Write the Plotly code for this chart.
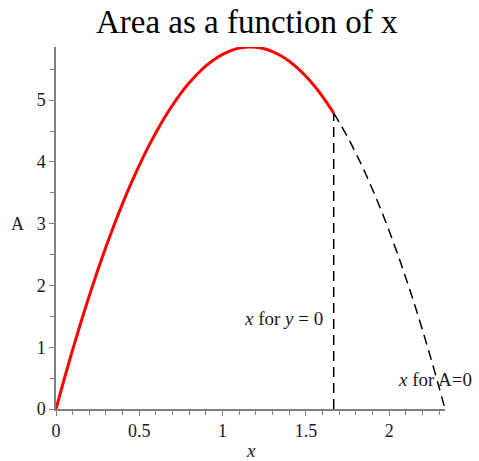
import plotly.graph_objects as go

# Area A against x, sampled along the curve
x_valid = [0.0, 0.05, 0.1, 0.15, 0.2, 0.25, 0.3, 0.35, 0.4, 0.45, 0.5, 0.55, 0.6,
           0.65, 0.7, 0.75, 0.8, 0.85, 0.9, 0.95, 1.0, 1.05, 1.1, 1.15, 1.2, 1.25,
           1.3, 1.35, 1.4, 1.45, 1.5, 1.55, 1.6, 1.65, 1.667]
a_valid = [0.0, 0.491, 0.961, 1.409, 1.836, 2.241, 2.625, 2.987, 3.328, 3.648,
           3.945, 4.222, 4.476, 4.710, 4.921, 5.112, 5.280, 5.428, 5.554, 5.658,
           5.741, 5.802, 5.842, 5.860, 5.857, 5.832, 5.786, 5.718, 5.629, 5.518,
           5.386, 5.232, 5.057, 4.860, 4.788]

# Continuation past y = 0, down to A = 0
x_beyond = [1.667, 1.7, 1.75, 1.8, 1.85, 1.9, 1.95, 2.0, 2.05, 2.1, 2.15, 2.2,
            2.25, 2.3, 2.335]
a_beyond = [4.788, 4.642, 4.402, 4.141, 3.858, 3.554, 3.228, 2.881, 2.512,
            2.122, 1.710, 1.277, 0.822, 0.346, 0.0]

x_y_zero = 1.667
x_a_zero = 2.335
a_max = 5.86

serif = "Liberation Serif, Times New Roman, serif"
dash = "10px,6px"

fig = go.Figure()
fig.add_trace(go.Scatter(x=x_valid, y=a_valid, mode="lines",
                         line=dict(color="#ff0000", width=3, shape="spline"),
                         showlegend=False, cliponaxis=False))
fig.add_trace(go.Scatter(x=x_beyond, y=a_beyond, mode="lines",
                         line=dict(color="#000000", width=1.5, dash=dash, shape="spline"),
                         showlegend=False, cliponaxis=False))
fig.add_trace(go.Scatter(x=[x_y_zero, x_y_zero], y=[0, a_beyond[0]], mode="lines",
                         line=dict(color="#000000", width=1.5, dash=dash),
                         showlegend=False, cliponaxis=False))

axis_common = dict(
    showgrid=False, zeroline=False, showline=True, linecolor="#7f7f7f", linewidth=1.5,
    ticks="outside", ticklen=5, tickwidth=1.2, tickcolor="#7f7f7f",
    tickfont=dict(family=serif, size=18, color="#1a1a1a"),
)

fig.update_layout(
    width=479, height=461,
    margin=dict(l=56, r=34, t=47, b=52),
    paper_bgcolor="white", plot_bgcolor="white",
    title=dict(text="Area as a function of x", x=0.515, xanchor="center",
               y=0.953, yanchor="middle",
               font=dict(family=serif, size=33, color="#000000")),
    xaxis=dict(range=[0, x_a_zero], tickvals=[0, 0.5, 1, 1.5, 2],
               ticktext=["0", "0.5", "1", "1.5", "2"],
               minor=dict(dtick=0.1, tick0=0, ticks="outside", ticklen=4,
                          tickcolor="#7f7f7f", tickwidth=1.2),
               **axis_common),
    yaxis=dict(range=[0, a_max], tickvals=[0, 1, 2, 3, 4, 5],
               minor=dict(dtick=0.5, tick0=0, ticks="outside", ticklen=4,
                          tickcolor="#7f7f7f", tickwidth=1.2),
               **axis_common),
)

# axis labels
fig.add_annotation(text="<i>x</i>", xref="paper", yref="paper", x=0.5, y=-0.115,
                   xanchor="center", yanchor="middle", showarrow=False,
                   font=dict(family=serif, size=19, color="#1a1a1a"))
fig.add_annotation(text="A", xref="paper", x=-0.1, y=3.0, yref="y",
                   xanchor="center", yanchor="middle", showarrow=False,
                   font=dict(family=serif, size=18, color="#1a1a1a"))

# line labels
fig.add_annotation(text="<i>x</i> for <i>y</i> = 0", x=1.615, y=1.47,
                   xanchor="right", yanchor="middle", showarrow=False,
                   font=dict(family=serif, size=19, color="#1a1a1a"))
fig.add_annotation(text="<i>x</i> for A=0", x=2.04, y=0.47,
                   xanchor="left", yanchor="middle", showarrow=False,
                   font=dict(family=serif, size=19, color="#1a1a1a"))

fig.write_html("out.html")
